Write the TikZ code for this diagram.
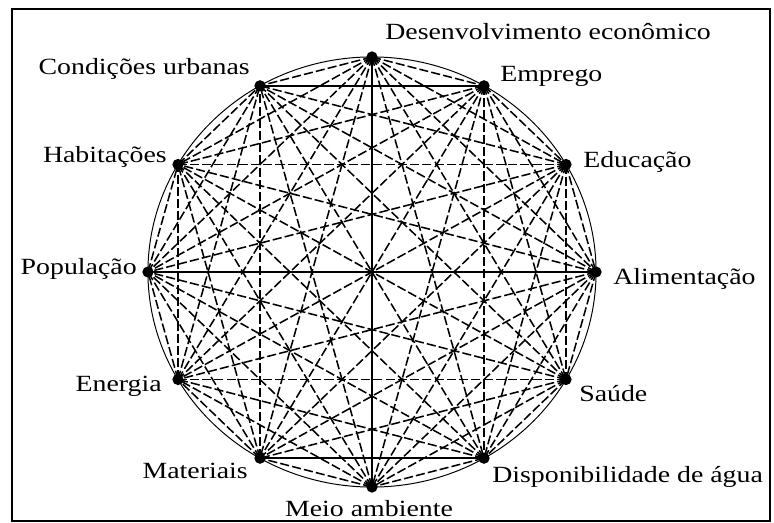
\documentclass[tikz,border=0pt]{standalone}
\usepackage{fontspec}
\setmainfont{Liberation Serif}[FakeStretch=1.2]
\usetikzlibrary{positioning}

\begin{document}
\begin{tikzpicture}[
  x=0.025cm, y=-0.025cm,
  every node/.style={font=\fontsize{16.5}{18}\selectfont, inner sep=0pt},
  hub/.style={circle, fill=black, minimum size=8pt},
  link/.style={line width=1.1pt, dash pattern=on 6.5pt off 2.2pt},
  axisline/.style={line width=1.1pt},
  rim/.style={line width=0.7pt},
  frame/.style={line width=1.6pt},
]
  \useasboundingbox (0,0) rectangle (774,523);
  \draw[frame] (12,9) rectangle (770,521);

  % Vertices round the circle, clockwise from the top
  \foreach \i in {0,...,11}
    \node[hub] (v\i) at ({372+224*cos(90-30*\i)}, {272-215*sin(90-30*\i)}) {};

  % Outer circle
  \draw[rim] (372,272) ellipse [x radius=5.6cm, y radius=5.375cm];

  % Every pair of vertices; a few chords solid
  \foreach \i in {0,...,10}{
    \pgfmathtruncatemacro\nxt{\i+1}
    \foreach \j in {\nxt,...,11}{
      \draw[link] (v\i.center) -- (v\j.center);
    }
  }
  \draw[axisline] (v0.center) -- (v6.center);
  \draw[axisline] (v11.center) -- (v1.center);
  \draw[axisline] (v7.center) -- (v5.center);
  \draw[axisline] (v9.center) -- (v3.center);

  % Labels
  \node[anchor=base west] (l0) at (385,40) {Desenvolvimento econômico};
  \node[anchor=base west] (l1) at (500,82) {Emprego};
  \node[anchor=base west] (l2) at (583,168) {Educação};
  \node[anchor=base west] (l3) at (613,285) {Alimentação};
  \node[anchor=base west] (l4) at (579,402) {Saúde};
  \node[anchor=base west] (l5) at (492,482) {Disponibilidade de água};
  \node[anchor=base] (l6) at (369,516) {Meio ambiente};
  \node[anchor=base east] (l7) at (248,478) {Materiais};
  \node[anchor=base east] (l8) at (162,392) {Energia};
  \node[anchor=base east] (l9) at (137,275) {População};
  \node[anchor=base east] (l10) at (167,163) {Habitações};
  \node[anchor=base east] (l11) at (250,75) {Condições urbanas};
\end{tikzpicture}
\end{document}
